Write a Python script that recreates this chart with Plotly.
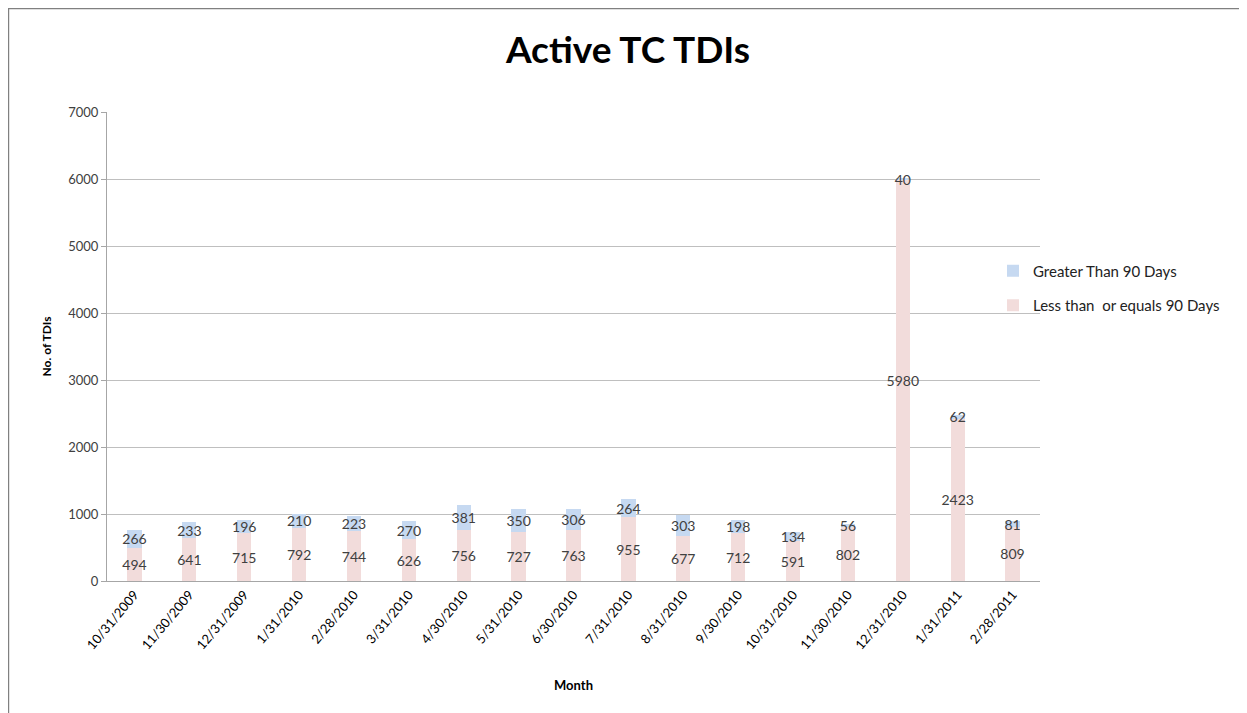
import plotly.graph_objects as go

months = ["10/31/2009", "11/30/2009", "12/31/2009", "1/31/2010", "2/28/2010", "3/31/2010",
          "4/30/2010", "5/31/2010", "6/30/2010", "7/31/2010", "8/31/2010", "9/30/2010",
          "10/31/2010", "11/30/2010", "12/31/2010", "1/31/2011", "2/28/2011"]
less_eq_90 = [494, 641, 715, 792, 744, 626, 756, 727, 763, 955, 677, 712, 591, 802, 5980, 2423, 809]
greater_90 = [266, 233, 196, 210, 223, 270, 381, 350, 306, 264, 303, 198, 134, 56, 40, 62, 81]

# page body adds an 8px offset; work in figure coordinates
OFF = 8
W, H = 1239, 705
L, R, T, B = 107 - OFF, 1040 - OFF, 112 - OFF, 581 - OFF

FONT = "Lato"
TXT = "#404040"

fig = go.Figure()
fig.add_trace(go.Bar(
    x=months, y=less_eq_90, name="Less than  or equals 90 Days", legendgroup="b", legendrank=2,
    marker=dict(color="#f2dcdb", line=dict(width=0)),
    text=[str(v) for v in less_eq_90], textposition="inside", insidetextanchor="middle",
    constraintext="none", textangle=0,
    textfont=dict(family=FONT, size=14, color=TXT),
))
fig.add_trace(go.Bar(
    x=months, y=greater_90, name="Greater Than 90 Days", legendgroup="a", legendrank=1,
    marker=dict(color="#c6d9f1", line=dict(width=0)),
    text=[str(v) for v in greater_90], textposition="inside", insidetextanchor="middle",
    constraintext="none", textangle=0,
    textfont=dict(family=FONT, size=14, color=TXT),
))

fig.update_layout(
    width=W, height=H,
    barmode="stack", bargap=0.74,
    paper_bgcolor="white", plot_bgcolor="white",
    margin=dict(l=L, r=W - R, t=T, b=H - B, autoexpand=False),
    font=dict(family=FONT, color=TXT),
    title=dict(text="<b>Active TC TDIs</b>", x=(628 - OFF) / W, xanchor="center",
               y=1 - (50 - OFF) / H, yanchor="middle", yref="container",
               font=dict(family=FONT, size=37, color="black")),
    legend=dict(x=(993 - OFF - L) / (R - L), xanchor="left",
                y=1 - (288 - OFF - T) / (B - T), yanchor="middle",
                traceorder="grouped", bgcolor="rgba(0,0,0,0)",
                font=dict(family=FONT, size=15, color="#222222"),
                itemwidth=30, tracegroupgap=12),
    showlegend=True,
)
fig.update_xaxes(
    showline=True, linecolor="#a6a6a6", linewidth=1, showgrid=False,
    tickangle=-50, tickfont=dict(family=FONT, size=13, color="black"),
    ticks="",
    title=dict(text="<b>Month</b>", font=dict(family=FONT, size=13, color="black"), standoff=29),
)
fig.update_yaxes(
    range=[0, 7000], dtick=1000, showline=True, linecolor="#a6a6a6", linewidth=1,
    showgrid=True, gridcolor="#bfbfbf", gridwidth=1,
    ticks="outside", ticklen=5, tickcolor="#a6a6a6",
    tickfont=dict(family=FONT, size=13, color=TXT),
    zeroline=False,
    title=dict(text="<b>No. of TDIs</b>", font=dict(family=FONT, size=12, color="black"), standoff=14),
)

# outer frame of the picture
fig.add_shape(type="rect", xref="paper", yref="paper",
              x0=(8 - OFF - L) / (R - L) + 0.0005, x1=(1244 - OFF - L) / (R - L),
              y0=(B - 720) / (B - T), y1=(B - 0.5) / (B - T),
              line=dict(color="#808080", width=1.5), layer="above")

fig.write_html("out.html")
